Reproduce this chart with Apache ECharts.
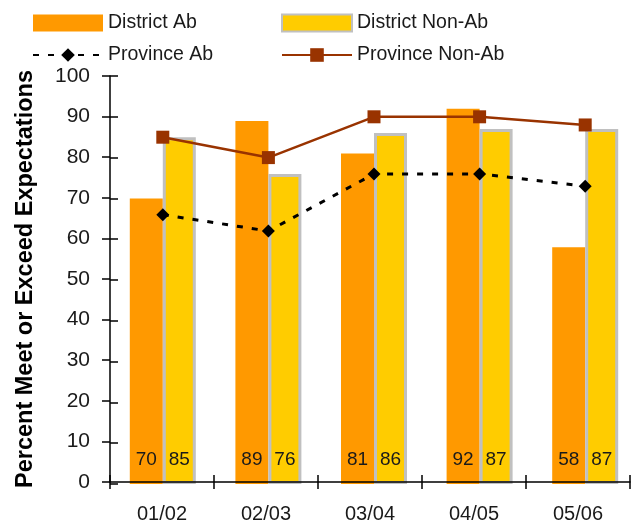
<!DOCTYPE html>
<html>
<head>
<meta charset="utf-8">
<script src="https://cdn.jsdelivr.net/npm/echarts@6/dist/echarts.min.js"></script>
<style>
html,body{margin:0;padding:0;background:#fff;}
#chart{width:638px;height:524px;}
</style>
</head>
<body>
<div id="chart"></div>
<script>
const categories = ['01/02', '02/03', '03/04', '04/05', '05/06'];
const districtAb = [70, 89, 81, 92, 58];
const districtNonAb = [85, 76, 86, 87, 87];
const provinceAb = [66, 62, 76, 76, 73];
const provinceNonAb = [85, 80, 90, 90, 88];
const yAxisTitle = 'Percent Meet or Exceed Expectations';

const FONT = 'Liberation Sans, Arial, sans-serif';
const chart = echarts.init(document.getElementById('chart'), null, {renderer: 'canvas'});

const labelCfg = {
  show: true,
  position: 'insideBottom',
  distance: 15,
  color: '#1a1a1a',
  fontSize: 19,
  fontFamily: FONT
};

chart.setOption({
  animation: false,
  backgroundColor: '#fff',
  textStyle: {fontFamily: FONT},
  legend: [
    {
      data: [{name: 'District Ab', icon: 'rect'}, {name: 'Province Ab'}],
      orient: 'vertical',
      left: 32, top: 13, padding: 0,
      itemWidth: 70, itemHeight: 17, itemGap: 12,
      textStyle: {fontSize: 19.5, color: '#1a1a1a', fontFamily: FONT}
    },
    {
      data: [{name: 'District Non-Ab', icon: 'rect'}, {name: 'Province Non-Ab'}],
      orient: 'vertical',
      left: 281, top: 13, padding: 0,
      itemWidth: 70, itemHeight: 17, itemGap: 12,
      textStyle: {fontSize: 19.5, color: '#1a1a1a', fontFamily: FONT}
    }
  ],
  grid: [
    {left: 110, right: 8, top: 76, bottom: 40},
    {left: 110, right: -8, top: 76, bottom: 40}
  ],
  xAxis: [
    {
      gridIndex: 0, type: 'category', data: categories, position: 'bottom',
      axisLine: {show: true, lineStyle: {color: '#000', width: 1.5}},
      axisTick: {show: true, inside: false, length: 7, lineStyle: {color: '#000', width: 1.5}},
      axisLabel: {fontSize: 20, color: '#1a1a1a', margin: 22, fontFamily: FONT},
      z: 10
    },
    {
      gridIndex: 0, type: 'category', data: categories, position: 'bottom', offset: 0,
      axisLine: {show: false},
      axisTick: {show: true, inside: true, length: 7, lineStyle: {color: '#000', width: 1.5}},
      axisLabel: {show: false}
    },
    {
      gridIndex: 1, type: 'category', data: categories, position: 'bottom',
      axisLine: {show: false},
      axisTick: {show: false},
      axisLabel: {show: false}
    }
  ],
  yAxis: [
    {
      gridIndex: 0, type: 'value', min: 0, max: 100, interval: 10,
      name: yAxisTitle, nameLocation: 'middle', nameRotate: 90, nameGap: 72,
      nameTextStyle: {fontSize: 23.5, fontWeight: 'bold', color: '#000', fontFamily: FONT},
      axisLine: {show: true, lineStyle: {color: '#000', width: 1.5}},
      axisTick: {show: true, inside: false, length: 8, lineStyle: {color: '#000', width: 1.5}},
      axisLabel: {fontSize: 21, color: '#1a1a1a', margin: 20, fontFamily: FONT},
      splitLine: {show: false}
    },
    {
      gridIndex: 1, type: 'value', min: 0, max: 100, interval: 10,
      axisLine: {show: false},
      axisTick: {show: true, inside: true, length: 8, lineStyle: {color: '#000', width: 1.5}},
      axisLabel: {show: false},
      splitLine: {show: false}
    }
  ],
  series: [
    {
      name: 'District Ab', type: 'bar', xAxisIndex: 2, yAxisIndex: 1,
      data: districtAb, barWidth: 33, barGap: '0%',
      itemStyle: {color: '#FF9900'},
      label: labelCfg, z: 2
    },
    {
      name: 'District Non-Ab', type: 'bar', xAxisIndex: 2, yAxisIndex: 1,
      data: districtNonAb, barWidth: 33, barGap: '0%',
      itemStyle: {color: '#FFCC00', borderColor: '#C0C0C0', borderWidth: 3},
      label: labelCfg, z: 2
    },
    {
      name: 'Province Ab', type: 'line', xAxisIndex: 2, yAxisIndex: 1,
      data: provinceAb,
      symbol: 'diamond', symbolSize: 13,
      lineStyle: {color: '#000', width: 3, type: [6, 9]},
      itemStyle: {color: '#000'},
      z: 5
    },
    {
      name: 'Province Non-Ab', type: 'line', xAxisIndex: 2, yAxisIndex: 1,
      data: provinceNonAb,
      symbol: 'rect', symbolSize: 13,
      lineStyle: {color: '#993300', width: 2.5},
      itemStyle: {color: '#993300'},
      z: 6
    }
  ]
});
</script>
</body>
</html>
